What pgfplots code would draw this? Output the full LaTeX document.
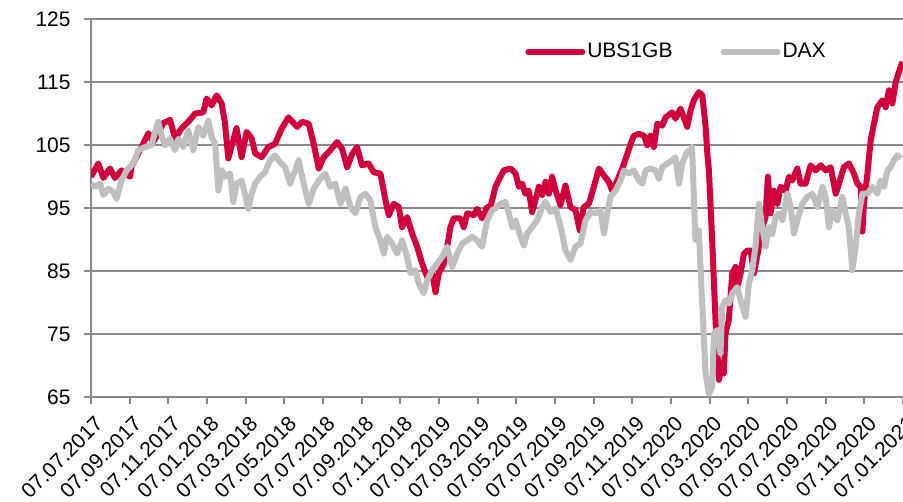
\documentclass[border=0pt]{standalone}
\usepackage{pgfplots}
\pgfplotsset{compat=1.18}
\usepackage{fontspec}
\setmainfont{Liberation Sans}
\definecolor{ubsred}{RGB}{208,0,62}
\definecolor{daxgray}{RGB}{191,191,191}
\definecolor{gridgray}{RGB}{137,137,137}
\begin{document}
\fontsize{10.5}{12.6}\selectfont
\begin{tikzpicture}
\begin{axis}[
  name=ax,
  at={(0,0)}, anchor=south west,
  scale only axis,
  width=406pt, height=189.25pt,
  xmin=0, xmax=42, ymin=65, ymax=125,
  xtick={0,2,...,42},
  xticklabels={07.07.2017,07.09.2017,07.11.2017,07.01.2018,07.03.2018,07.05.2018,07.07.2018,07.09.2018,07.11.2018,07.01.2019,07.03.2019,07.05.2019,07.07.2019,07.09.2019,07.11.2019,07.01.2020,07.03.2020,07.05.2020,07.07.2020,07.09.2020,07.11.2020,07.01.2021},
  ytick={65,75,...,125},
  ymajorgrids,
  grid style={gridgray, line width=1pt},
  axis x line=bottom, axis y line=left,
  axis line style={-, gridgray, line width=1pt},
  tick align=outside,
  major tick length=3.5pt,
  tick style={gridgray, line width=1pt},
  /pgf/number format/assume math mode=true,
  ticklabel style={font=\fontsize{10.5}{12.6}\selectfont, text=black},
  xticklabel style={rotate=45, anchor=north east, inner sep=1pt, xshift=-1.5pt, yshift=-3.5pt},
  yticklabel style={xshift=-3pt},
  legend columns=2,
  legend style={at={(0.527,0.914)}, anchor=west, draw=none, fill=none,
    font=\fontsize{10.5}{12.6}\selectfont,
    nodes={inner sep=1pt},
    /tikz/every even column/.append style={column sep=23pt}},
  legend image code/.code={\draw[#1, line cap=round] (0pt,0pt) -- (27pt,0pt);},
  clip=true,
]
\addplot[ubsred, line width=3pt, line join=round] coordinates {
(0,100.0)(0.38,102.1)(0.64,99.8)(0.98,101.3)(1.24,99.8)(1.58,101.0)(2.02,100.0)(2.10,101.6)
(2.71,105.3)(2.97,106.9)(3.22,105.5)(3.48,106.9)(3.74,108.5)(4.09,109.0)(4.35,106.1)(4.69,107.7)
(5.03,108.7)(5.38,110.0)(5.81,110.2)(5.98,112.4)(6.24,111.3)(6.50,112.9)(6.76,111.6)(6.93,108.5)
(7.10,102.9)(7.36,105.8)(7.53,107.7)(7.79,103.1)(8.05,107.1)(8.31,106.1)(8.49,103.7)(8.83,103.1)
(9.17,104.7)(9.52,105.2)(9.86,107.6)(10.21,109.4)(10.42,108.7)(10.66,107.9)(10.92,108.7)(11.26,108.4)
(11.52,105.2)(11.78,101.3)(12.04,103.1)(12.38,104.2)(12.73,105.5)(12.99,104.4)(13.25,101.5)(13.51,103.6)
(13.76,104.7)(14.02,101.8)(14.36,102.1)(14.62,100.7)(14.97,100.5)(15.23,96.3)(15.40,93.9)(15.66,95.7)
(15.92,95.2)(16.09,92.0)(16.35,93.6)(16.61,91.0)(16.87,88.9)(17.13,86.2)(17.39,84.1)(17.65,84.7)
(17.82,81.7)(17.99,84.7)(18.25,86.2)(18.42,88.9)(18.59,92.0)(18.76,93.4)(19.11,93.4)(19.28,92.0)
(19.46,94.2)(19.80,93.9)(19.97,94.9)(20.23,93.4)(20.49,95.2)(20.66,95.2)(20.92,98.4)(21.18,100.0)
(21.35,101.0)(21.70,101.3)(21.96,100.5)(22.13,98.4)(22.30,98.9)(22.47,97.3)(22.64,97.8)(22.82,94.4)
(22.99,96.3)(23.16,98.4)(23.34,97.1)(23.51,99.2)(23.68,97.3)(23.85,100.0)(24.03,97.8)(24.28,95.5)
(24.54,98.6)(24.80,95.2)(25.06,94.7)(25.28,91.5)(25.49,95.2)(25.75,95.7)(26.01,98.4)(26.27,101.3)
(26.53,100.2)(26.78,99.2)(26.96,97.8)(27.22,99.4)(27.48,101.3)(27.74,103.6)(27.91,105.2)(28.08,106.5)
(28.34,106.8)(28.60,106.5)(28.77,105.0)(28.94,106.5)(29.11,104.7)(29.29,108.4)(29.55,108.1)(29.72,109.4)
(30.06,110.2)(30.23,109.2)(30.49,110.8)(30.66,109.4)(30.84,107.9)(31.01,110.5)(31.18,112.1)(31.44,113.4)
(31.62,112.9)(31.79,107.9)(31.88,103.6)(31.96,101.0)(32.13,89.9)(32.31,76.7)(32.48,67.8)(32.65,70.4)
(32.73,68.8)(32.82,75.2)(32.99,77.3)(33.17,84.7)(33.34,85.7)(33.43,82.5)(33.60,84.7)(33.77,87.8)
(33.95,88.3)(34.12,88.3)(34.29,84.7)(34.55,88.9)(34.72,92.0)(34.89,93.6)(35.01,100.0)(35.15,94.2)
(35.32,97.8)(35.50,95.7)(35.67,98.4)(35.93,97.8)(36.10,100.0)(36.27,99.4)(36.53,101.3)(36.70,98.9)
(36.96,98.9)(37.22,101.8)(37.48,101.0)(37.74,101.8)(38.00,101.0)(38.26,101.5)(38.52,97.3)(38.69,98.9)
(38.94,101.5)(39.20,102.1)(39.46,100.5)(39.64,98.9)(39.81,98.4)(39.90,91.3)(39.98,95.7)(40.16,100.5)
(40.33,105.8)(40.50,108.4)(40.67,111.0)(40.93,112.1)(41.10,111.0)(41.27,113.7)(41.45,111.6)(41.62,115.0)
(41.79,116.6)(41.97,118.2)
};
\addlegendentry{UBS1GB}
\addplot[daxgray, line width=3pt, line join=round] coordinates {
(0,98.9)(0.21,98.4)(0.47,98.9)(0.64,97.1)(0.90,98.1)(1.15,97.6)(1.32,96.5)(1.58,99.4)
(1.84,101.0)(2.19,102.1)(2.45,104.2)(2.79,104.7)(3.14,105.0)(3.31,107.1)(3.48,108.7)(3.65,106.5)
(3.83,105.0)(4.09,106.0)(4.35,104.2)(4.52,106.0)(4.78,104.7)(5.03,107.3)(5.29,104.2)(5.55,107.9)
(5.81,106.5)(6.07,108.9)(6.24,106.3)(6.42,105.2)(6.59,97.8)(6.76,101.0)(6.93,100.0)(7.19,100.5)
(7.36,96.0)(7.53,98.9)(7.79,99.4)(7.97,97.1)(8.14,94.9)(8.31,97.3)(8.49,98.9)(8.75,100.0)
(9.00,100.7)(9.26,102.6)(9.52,103.4)(9.78,102.3)(10.04,101.5)(10.30,98.9)(10.42,100.0)(10.57,101.0)
(10.74,102.6)(11.00,98.9)(11.26,95.7)(11.52,98.1)(11.78,99.4)(12.12,100.5)(12.38,98.4)(12.64,98.9)
(12.90,95.7)(13.16,98.1)(13.42,95.2)(13.68,94.2)(13.94,96.8)(14.19,97.3)(14.45,96.3)(14.71,92.0)
(14.97,89.9)(15.14,87.8)(15.32,90.5)(15.58,89.4)(15.83,87.8)(16.09,89.9)(16.35,87.3)(16.52,84.7)
(16.78,85.2)(16.95,83.1)(17.21,81.5)(17.39,83.6)(17.65,85.2)(17.90,86.2)(18.16,87.3)(18.42,88.9)
(18.68,85.7)(18.94,87.8)(19.20,89.4)(19.46,89.9)(19.72,90.5)(19.97,89.9)(20.23,88.9)(20.49,93.1)
(20.75,94.7)(20.92,95.0)(21.18,95.7)(21.44,96.0)(21.61,94.2)(21.79,92.0)(21.96,93.1)(22.13,91.3)
(22.39,89.1)(22.56,91.0)(22.82,92.0)(23.08,93.1)(23.34,95.2)(23.51,96.0)(23.77,94.4)(24.03,95.0)
(24.20,93.1)(24.37,91.0)(24.54,88.3)(24.80,86.8)(25.06,88.9)(25.32,89.4)(25.58,93.1)(25.84,94.4)
(26.10,94.2)(26.35,94.7)(26.53,91.0)(26.70,94.2)(26.87,96.8)(27.13,97.8)(27.39,99.4)(27.56,101.0)
(27.82,100.5)(28.08,101.0)(28.34,99.4)(28.52,98.9)(28.69,101.0)(28.94,101.3)(29.20,101.0)(29.37,99.7)
(29.55,101.5)(29.81,102.1)(30.06,102.6)(30.23,103.1)(30.41,98.9)(30.58,102.1)(30.84,104.0)(31.01,104.2)
(31.09,104.7)(31.26,90.0)(31.44,91.5)(31.62,79.4)(31.79,68.8)(31.96,65.6)(32.13,66.7)(32.22,75.2)
(32.39,75.7)(32.56,72.0)(32.65,79.4)(32.82,80.4)(32.99,79.9)(33.17,81.5)(33.43,82.5)(33.69,79.4)
(33.86,77.8)(34.03,83.1)(34.20,85.2)(34.37,88.9)(34.55,95.7)(34.72,92.0)(34.89,88.9)(35.06,92.0)
(35.24,90.9)(35.41,93.6)(35.58,94.2)(35.76,93.1)(36.02,97.3)(36.19,95.2)(36.36,91.0)(36.53,93.1)
(36.79,95.7)(37.05,96.8)(37.31,97.3)(37.57,95.2)(37.83,98.4)(38.00,96.8)(38.17,92.0)(38.34,94.7)
(38.60,93.1)(38.86,96.8)(39.03,94.2)(39.20,92.0)(39.38,85.2)(39.55,88.9)(39.72,94.2)(39.90,97.3)
(40.16,97.3)(40.42,98.4)(40.67,97.3)(40.84,99.4)(41.02,98.4)(41.19,101.0)(41.36,101.5)(41.53,102.6)
(41.71,103.4)(41.88,102.9)
};
\addlegendentry{DAX}
\end{axis}
\pgfresetboundingbox
\path[use as bounding box] (-45.5pt,-52.25pt) rectangle (406pt,198.75pt);
\end{tikzpicture}
\end{document}
